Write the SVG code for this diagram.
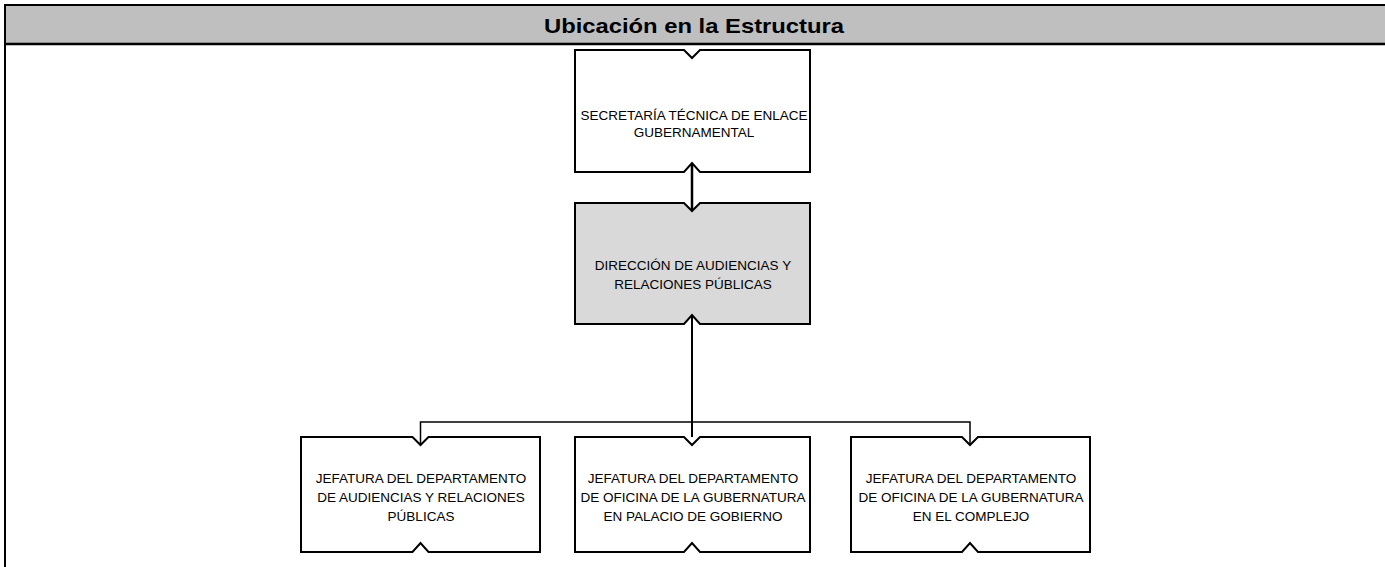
<svg xmlns="http://www.w3.org/2000/svg" width="1385" height="567" viewBox="0 0 1385 567">
<style>
.box{fill:#ffffff;stroke:#000;stroke-width:2}
.gray{fill:#d9d9d9}
.t{font-family:"Liberation Sans",Arial,sans-serif;font-size:13.5px;fill:#000;text-anchor:middle}
.title{font-family:"Liberation Sans",Arial,sans-serif;font-size:21px;font-weight:bold;fill:#000;text-anchor:middle}
.c{fill:none;stroke:#000}
</style>
<rect width="1385" height="567" fill="#fff"/>
<g id="header">
<rect x="5" y="5" width="1382" height="39" fill="#bfbfbf"/>
<line x1="4" y1="5" x2="1385" y2="5" stroke="#000" stroke-width="2"/>
<line x1="4" y1="44" x2="1385" y2="44" stroke="#000" stroke-width="2.5"/>
<line x1="5" y1="4" x2="5" y2="567" stroke="#000" stroke-width="2"/>
<text class="title" x="694" y="33" textLength="300" lengthAdjust="spacingAndGlyphs">Ubicación en la Estructura</text>
</g>
<g id="connectors">
<line class="c" x1="692" y1="164" x2="692" y2="211" stroke-width="2.5"/>
<line class="c" x1="692" y1="316" x2="692" y2="437" stroke-width="2"/>
<polyline class="c" points="420.5,445 420.5,422 970,422 970,445" stroke-width="1.5"/>
</g>
<g id="n1">
<path class="box" d="M575 50 H684 L692 58 L700 50 H810 V172 H700 L692 163 L684 172 H575 Z"/>
<text class="t" x="694" y="120">SECRETARÍA TÉCNICA DE ENLACE</text>
<text class="t" x="694" y="137">GUBERNAMENTAL</text>
</g>
<g id="n2">
<path class="box gray" d="M575 203 H684 L692 211 L700 203 H810 V324 H700 L692 315 L684 324 H575 Z"/>
<text class="t" x="693" y="270">DIRECCIÓN DE AUDIENCIAS Y</text>
<text class="t" x="693" y="289">RELACIONES PÚBLICAS</text>
</g>
<g id="n3">
<path class="box" d="M301 437 H412.5 L420.5 445 L428.5 437 H540 V552 H428.5 L420.5 543 L412.5 552 H301 Z"/>
<text class="t" x="421" y="483">JEFATURA DEL DEPARTAMENTO</text>
<text class="t" x="421" y="502">DE AUDIENCIAS Y RELACIONES</text>
<text class="t" x="421" y="521">PÚBLICAS</text>
</g>
<g id="n4">
<path class="box" d="M575 437 H684 L692 445 L700 437 H810 V552 H700 L692 543 L684 552 H575 Z"/>
<text class="t" x="693" y="483">JEFATURA DEL DEPARTAMENTO</text>
<text class="t" x="693" y="502">DE OFICINA DE LA GUBERNATURA</text>
<text class="t" x="693" y="521">EN PALACIO DE GOBIERNO</text>
</g>
<g id="n5">
<path class="box" d="M851 437 H962 L970 445 L978 437 H1090 V552 H978 L970 543 L962 552 H851 Z"/>
<text class="t" x="971" y="483">JEFATURA DEL DEPARTAMENTO</text>
<text class="t" x="971" y="502">DE OFICINA DE LA GUBERNATURA</text>
<text class="t" x="971" y="521">EN EL COMPLEJO</text>
</g>
</svg>
